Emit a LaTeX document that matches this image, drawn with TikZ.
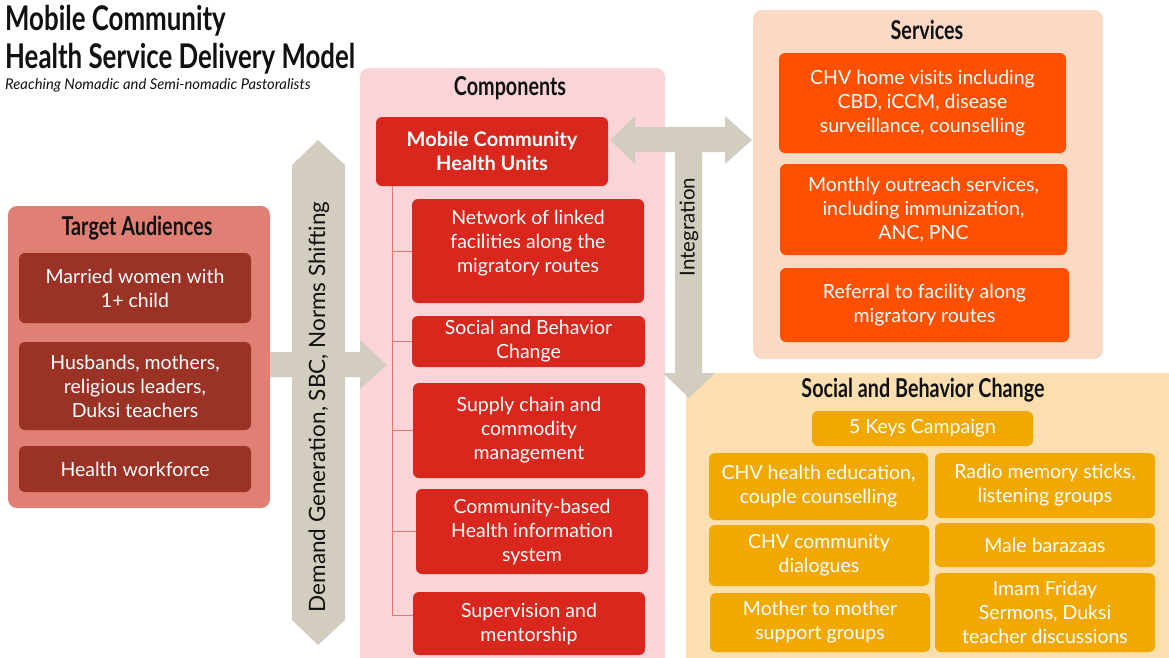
\documentclass[tikz,border=0pt]{standalone}
\usepackage{fontspec}
\setmainfont{Lato}
\newfontfamily\headfont[FakeStretch=0.76]{Lato}
\definecolor{taPanel}{HTML}{E07F74}
\definecolor{taBox}{HTML}{9B3226}
\definecolor{coPanel}{HTML}{FAD4D8}
\definecolor{coBox}{HTML}{D9271D}
\definecolor{coLine}{HTML}{E9766E}
\definecolor{svPanel}{HTML}{FCD9C5}
\definecolor{svBox}{HTML}{FE5000}
\definecolor{sbPanel}{HTML}{FCDFAE}
\definecolor{sbBox}{HTML}{F1A800}
\definecolor{arrowFill}{HTML}{D2CDBF}
\definecolor{headText}{HTML}{111111}
% box by corner coordinates: name, style, x1, y1, x2, y2, text
\newcommand\cornerbox[7]{%
  \node[#2, minimum width={(#5-#3)*1pt}, minimum height={(#6-#4)*1pt}]
    (#1) at ({(#3+#5)/2},{(#4+#6)/2}) {#7};}
\newcommand\bodyfont{\fontsize{19.5}{24}\selectfont}
\begin{document}
\begin{tikzpicture}[x=1pt,y=-1pt,
  panel/.style={rounded corners=9pt, inner sep=0pt},
  heading/.style={font=\headfont\bfseries\fontsize{26}{30}\selectfont, text=headText, inner sep=0pt},
  itembox/.style={rounded corners=6pt, inner sep=0pt, align=center, text=white, font=\bodyfont},
  tabox/.style={itembox, fill=taBox},
  cobox/.style={itembox, fill=coBox},
  svbox/.style={itembox, fill=svBox},
  sbbox/.style={itembox, fill=sbBox},
  treeline/.style={draw=coLine, line width=0.8pt},
  bigarrow/.style={fill=arrowFill}
]
\clip (0,0) rectangle (1169,657);
\fill[white] (0,0) rectangle (1169,657);

% title block
\node[anchor=base west, inner sep=0pt, font=\headfont\bfseries\fontsize{34}{38}\selectfont, text=headText] (title1) at (5,30) {Mobile Community};
\node[anchor=base west, inner sep=0pt, font=\headfont\bfseries\fontsize{34}{38}\selectfont, text=headText] (title2) at (5,68) {Health Service Delivery Model};
\node[anchor=base west, inner sep=0pt, font=\itshape\fontsize{14.8}{17}\selectfont, text=headText] (subtitle) at (5,89) {Reaching Nomadic and Semi-nomadic Pastoralists};

% panels
\cornerbox{taPanel}{panel, fill=taPanel}{8}{206}{270}{508}{}
\cornerbox{coPanel}{panel, fill=coPanel}{360}{68}{665}{690}{}
\cornerbox{svPanel}{panel, fill=svPanel}{753}{10}{1103}{359}{}
\cornerbox{sbPanel}{panel, fill=sbPanel}{686}{373}{1200}{700}{}

% demand generation arrow
\fill[bigarrow] (318,140) -- (345,165) -- (345,620) -- (318,645) -- (292,620) -- (292,165) -- cycle;
\fill[bigarrow] (taPanel.east |- 0,352) -- (360,352) -- (360,340) -- (387,365) -- (360,389) -- (360,377) -- (taPanel.east |- 0,377) -- cycle;
\node[rotate=90, font=\fontsize{22.5}{26}\selectfont, text=headText, inner sep=0pt] (demand) at (319,407) {Demand Generation, SBC, Norms Shifting};

% integration arrow
\fill[bigarrow] (610,140) -- (635,116) -- (635,127) -- (725,127) -- (725,116) -- (752,140) -- (725,164) -- (725,152)
  -- (702,152) -- (702,373) -- (715,373) -- (689,398) -- (663,373) -- (675,373) -- (675,152)
  -- (635,152) -- (635,164) -- cycle;
\node[rotate=90, font=\fontsize{20.5}{24}\selectfont, text=headText, inner sep=0pt] (integration) at (689,227) {Integration};

% target audiences
\node[heading] (taHead) at (137,228) {Target Audiences};
\cornerbox{ta1}{tabox}{19}{253}{251}{323}{Married women with\\1+ child}
\cornerbox{ta2}{tabox}{19}{342}{251}{430}{Husbands, mothers,\\religious leaders,\\Duksi teachers}
\cornerbox{ta3}{tabox}{19}{446}{251}{492}{Health workforce}

% components
\node[heading] (coHead) at (510,88) {Components};
\cornerbox{mchu}{cobox, font=\fontsize{20}{24}\selectfont\bfseries}{376}{117}{608}{186}{Mobile Community\\Health Units}
\cornerbox{co1}{cobox}{412}{199}{644}{303}{Network of linked\\facilities along the\\migratory routes\\[-4pt]\mbox{}}
\cornerbox{co2}{cobox}{412}{316}{645}{367}{Social and Behavior\\Change}
\cornerbox{co3}{cobox}{413}{383}{645}{478}{Supply chain and\\commodity\\management}
\cornerbox{co4}{cobox}{416}{489}{648}{574}{Community-based\\Health information\\system}
\cornerbox{co5}{cobox}{413}{592}{645}{655}{Supervision and\\mentorship}
\coordinate (trunk) at (392,186);
\draw[treeline] (trunk) |- ([yshift=8pt]co5.west);
\foreach \b in {co1,co2,co3,co4} \draw[treeline] (trunk |- \b.west) -- (\b.west);

% services
\node[heading] (svHead) at (927,30) {Services};
\cornerbox{sv1}{svbox}{779}{53}{1066}{153}{CHV home visits including\\CBD, iCCM, disease\\surveillance, counselling}
\cornerbox{sv2}{svbox}{780}{164}{1067}{255}{Monthly outreach services,\\including immunization,\\ANC, PNC}
\cornerbox{sv3}{svbox}{780}{268}{1069}{342}{Referral to facility along\\migratory routes}

% social and behavior change
\node[heading] (sbHead) at (923,390) {Social and Behavior Change};
\cornerbox{sb0}{sbbox}{812}{411}{1033}{446}{5 Keys Campaign}
\cornerbox{sb1}{sbbox}{709}{453}{928}{520}{CHV health education,\\couple counselling}
\cornerbox{sb2}{sbbox}{935}{453}{1155}{518}{Radio memory sticks,\\listening groups}
\cornerbox{sb3}{sbbox}{709}{525}{929}{586}{CHV community\\dialogues}
\cornerbox{sb4}{sbbox}{935}{523}{1155}{567}{Male barazaas}
\cornerbox{sb5}{sbbox}{710}{593}{930}{652}{Mother to mother\\support groups}
\cornerbox{sb6}{sbbox}{935}{573}{1155}{652}{Imam Friday\\Sermons, Duksi\\teacher discussions}
\end{tikzpicture}
\end{document}
